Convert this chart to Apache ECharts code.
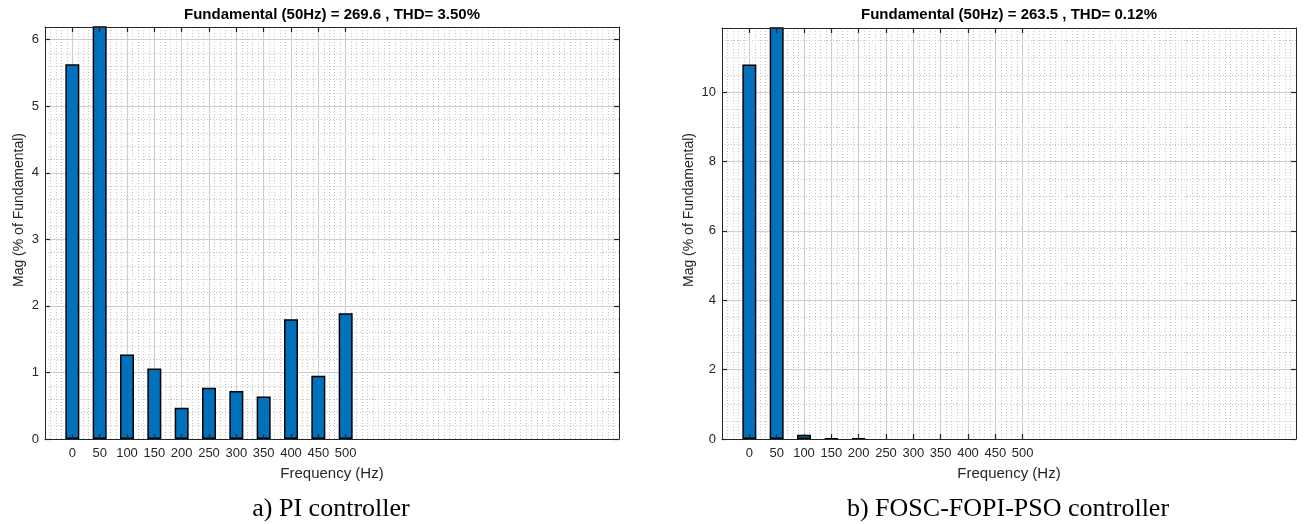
<!DOCTYPE html>
<html>
<head>
<meta charset="utf-8">
<script src="https://cdn.jsdelivr.net/npm/echarts@6/dist/echarts.min.js"></script>
<style>
  html, body { margin: 0; padding: 0; background: #fff; }
  #chart { width: 1306px; height: 524px; }
</style>
</head>
<body>
<div id="chart"></div>
<script>
// Harmonic spectrum: frequency bins (Hz)
const freqs = [0, 50, 100, 150, 200, 250, 300, 350, 400, 450, 500];
// Magnitude (% of fundamental), PI controller
const piMag = [5.63, 100, 1.27, 1.06, 0.47, 0.77, 0.72, 0.64, 1.80, 0.95, 1.89];
// Magnitude (% of fundamental), FOSC-FOPI-PSO controller
const psoMag = [10.80, 100, 0.12, 0.02, 0.02, 0, 0, 0, 0, 0, 0];

// Tick labels
const freqTicks = [0, 50, 100, 150, 200, 250, 300, 350, 400, 450, 500];
const piTicksY = [0, 1, 2, 3, 4, 5, 6];
const psoTicksY = [0, 2, 4, 6, 8, 10];

// Texts
const piTitle = 'Fundamental (50Hz) = 269.6 , THD= 3.50%';
const psoTitle = 'Fundamental (50Hz) = 263.5 , THD= 0.12%';
const piCaption = 'a) PI controller';
const psoCaption = 'b) FOSC-FOPI-PSO controller';
const xName = 'Frequency (Hz)';
const yName = 'Mag (% of Fundamental)';

const SANS = '"Liberation Sans", Arial, Helvetica, sans-serif';
const SERIF = '"Liberation Serif", "Times New Roman", serif';
const AX = '#262626';
const MAJOR = '#d4d4d4';
const MINOR = '#c4c4c4';
const BAR = '#0072BD';

const X_MIN = -50, X_MAX = 1000;

const panels = [
  { left: 45, top: 27, width: 574, height: 412, yMax: 6.19, yTicks: piTicksY, yMinor: 0.2,
    data: piMag, title: piTitle, caption: piCaption, yNameX: 19 },
  { left: 722, top: 28, width: 574, height: 411, yMax: 11.85, yTicks: psoTicksY, yMinor: 0.5,
    data: psoMag, title: psoTitle, caption: psoCaption, yNameX: 689 }
];

const axisLine = { show: true, onZero: false, lineStyle: { color: AX, width: 1 } };
const tickStyle = { color: AX, width: 1.2 };

function xAxesFor(g) {
  const base = { gridIndex: g, type: 'value', min: X_MIN, max: X_MAX, interval: 50 };
  return [
    // bottom axis: line, inward ticks, labels and name
    Object.assign({}, base, {
      position: 'bottom', z: 3,
      name: xName, nameLocation: 'middle', nameGap: 27,
      nameTextStyle: { color: AX, fontSize: 15, fontFamily: SANS },
      axisLine: axisLine,
      axisTick: { show: true, inside: true, length: 5, customValues: freqTicks, lineStyle: tickStyle },
      axisLabel: { show: true, customValues: freqTicks, margin: 8, color: AX, fontSize: 13, fontFamily: SANS },
      splitLine: { show: false }
    }),
    // top box edge with ticks
    Object.assign({}, base, {
      position: 'top', z: 3,
      axisLine: axisLine,
      axisTick: { show: true, inside: true, length: 5, customValues: freqTicks, lineStyle: tickStyle },
      axisLabel: { show: false },
      splitLine: { show: false }
    }),
    // major vertical grid
    Object.assign({}, base, {
      position: 'bottom',
      axisLine: { show: false },
      axisTick: { show: false, customValues: freqTicks },
      axisLabel: { show: false },
      splitLine: { show: true, lineStyle: { color: MAJOR, width: 1.2 } }
    }),
    // minor vertical grid
    Object.assign({}, base, {
      position: 'bottom', interval: 10,
      axisLine: { show: false },
      axisTick: { show: false },
      axisLabel: { show: false },
      splitLine: { show: true, lineStyle: { color: MINOR, width: 1, type: [1, 2] } }
    })
  ];
}

function yAxesFor(g, p) {
  const base = { gridIndex: g, type: 'value', min: 0, max: p.yMax };
  return [
    Object.assign({}, base, {
      position: 'left', z: 3,
      axisLine: axisLine,
      axisTick: { show: true, inside: true, length: 5, customValues: p.yTicks, lineStyle: tickStyle },
      axisLabel: { show: true, customValues: p.yTicks, margin: 6, color: AX, fontSize: 13, fontFamily: SANS },
      splitLine: { show: false }
    }),
    Object.assign({}, base, {
      position: 'right', z: 3,
      axisLine: axisLine,
      axisTick: { show: true, inside: true, length: 5, customValues: p.yTicks, lineStyle: tickStyle },
      axisLabel: { show: false },
      splitLine: { show: false }
    }),
    Object.assign({}, base, {
      position: 'left',
      axisLine: { show: false },
      axisTick: { show: false, customValues: p.yTicks },
      axisLabel: { show: false },
      splitLine: { show: true, lineStyle: { color: MAJOR, width: 1.2 } }
    }),
    Object.assign({}, base, {
      position: 'left', interval: p.yMinor,
      axisLine: { show: false },
      axisTick: { show: false },
      axisLabel: { show: false },
      splitLine: { show: true, lineStyle: { color: MINOR, width: 1, type: [1, 2] } }
    })
  ];
}

const grid = [], xAxis = [], yAxis = [], series = [], graphic = [];

panels.forEach(function (p, g) {
  grid.push({ left: p.left, top: p.top, width: p.width, height: p.height, containLabel: false });
  xAxis.push.apply(xAxis, xAxesFor(g));
  yAxis.push.apply(yAxis, yAxesFor(g, p));
  series.push({
    type: 'bar',
    xAxisIndex: g * 4,
    yAxisIndex: g * 4,
    barWidth: 14,
    clip: true,
    z: 2,
    itemStyle: { color: BAR, borderColor: '#000', borderWidth: 1.5 },
    data: freqs.map(function (f, i) {
      const v = p.data[i];
      // empty bins get no outline
      return v === 0 ? { value: [f, v], itemStyle: { borderWidth: 0 } } : [f, v];
    })
  });
  const cx = p.left + p.width / 2;
  graphic.push({
    type: 'text', x: cx, y: 15,
    style: { text: p.title, fill: '#000', font: 'bold 15px ' + SANS,
             align: 'center', verticalAlign: 'middle', textAlign: 'center', textVerticalAlign: 'middle' }
  });
  graphic.push({
    type: 'text', x: p.yNameX, y: 210, rotation: Math.PI / 2,
    style: { text: yName, fill: AX, font: '14px ' + SANS,
             align: 'center', verticalAlign: 'middle', textAlign: 'center', textVerticalAlign: 'middle' }
  });
  graphic.push({
    type: 'text', x: cx - 1, y: 509,
    style: { text: p.caption, fill: '#000', font: '26px ' + SERIF,
             align: 'center', verticalAlign: 'middle', textAlign: 'center', textVerticalAlign: 'middle' }
  });
});

const chart = echarts.init(document.getElementById('chart'), null, { renderer: 'canvas' });
chart.setOption({
  animation: false,
  backgroundColor: '#fff',
  grid: grid,
  xAxis: xAxis,
  yAxis: yAxis,
  series: series,
  graphic: graphic
});
</script>
</body>
</html>
